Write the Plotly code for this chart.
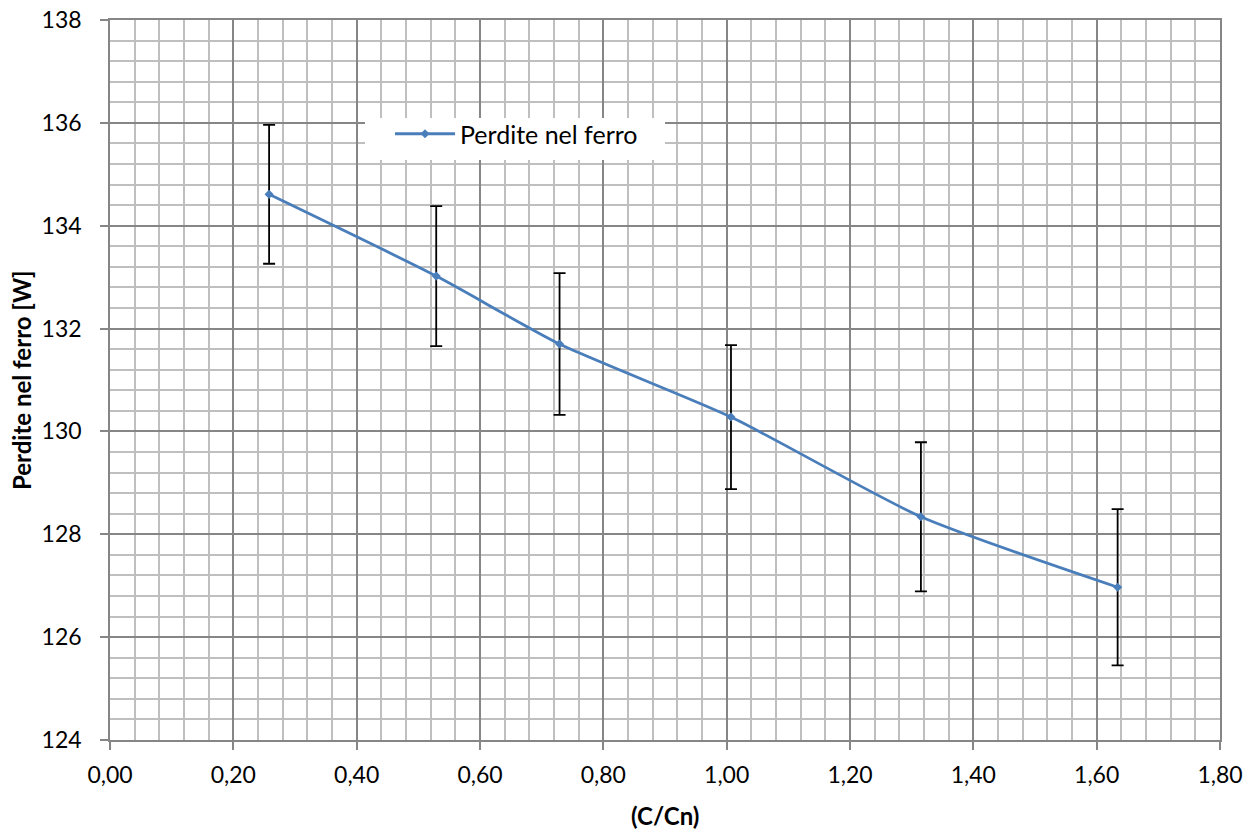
import plotly.graph_objects as go

# Data
x_vals = [0.258, 0.529, 0.729, 1.007, 1.315, 1.634]
y_vals = [134.61, 133.02, 131.70, 130.28, 128.34, 126.97]
y_err = [1.35, 1.36, 1.38, 1.40, 1.45, 1.52]
series_name = "Perdite nel ferro"
x_title = "(C/Cn)"
y_title = "Perdite nel ferro [W]"

FONT = "Lato, 'Open Sans', sans-serif"
MAJOR = "#868686"
MINOR = "#BFBFBF"

fig = go.Figure()
fig.add_trace(go.Scatter(
    x=x_vals, y=y_vals, name=series_name,
    mode="lines+markers",
    line=dict(color="#4A7EBB", width=2.8, shape="spline", smoothing=0.6),
    marker=dict(symbol="diamond", size=7, color="#4A7EBB"),
    error_y=dict(type="data", array=y_err, visible=True, color="black",
                 thickness=1.8, width=6),
))

L, R, T, B = 110, 35, 20, 89
W, H = 1255, 829
pw, ph = W - L - R, H - T - B

def px2x(p):
    return (p - L) / pw

def px2y(p):
    return (H - B - p) / ph

fig.add_shape(type="rect", xref="paper", yref="paper",
              x0=px2x(365), x1=px2x(665), y0=px2y(160), y1=px2y(118),
              fillcolor="white", line=dict(width=0), layer="above")

fig.update_layout(
    width=W, height=H,
    margin=dict(l=L, r=R, t=T, b=B, pad=0, autoexpand=False),
    paper_bgcolor="white", plot_bgcolor="white",
    separators=",.",
    font=dict(family=FONT, size=23, color="black"),
    showlegend=True,
    legend=dict(x=px2x(390), y=px2y(111), xanchor="left", yanchor="top",
                bgcolor="rgba(0,0,0,0)", borderwidth=0,
                font=dict(family=FONT, size=25, color="black"),
                itemwidth=60),
    xaxis=dict(range=[0, 1.8], dtick=0.2, tick0=0, tickformat=".2f",
               automargin=False,
               showgrid=True, gridcolor=MAJOR, gridwidth=1.5,
               minor=dict(dtick=0.04, tick0=0, showgrid=True, gridcolor=MINOR, gridwidth=1.5, ticks=""),
               showline=True, linecolor=MAJOR, linewidth=1.5, mirror=True,
               ticks="outside", ticklen=8, tickcolor=MAJOR, tickwidth=1.5,
               ticklabelstandoff=6,
               tickfont=dict(family=FONT, size=23, color="black"),
               zeroline=False),
    yaxis=dict(range=[124, 138], dtick=2, tick0=124,
               automargin=False,
               showgrid=True, gridcolor=MAJOR, gridwidth=1.5,
               minor=dict(dtick=0.4, tick0=124, showgrid=True, gridcolor=MINOR, gridwidth=1.5, ticks=""),
               showline=True, linecolor=MAJOR, linewidth=1.5, mirror=True,
               ticks="outside", ticklen=8, tickcolor=MAJOR, tickwidth=1.5,
               ticklabelstandoff=14,
               tickfont=dict(family=FONT, size=23, color="black"),
               zeroline=False),
    annotations=[
        dict(text="<b>%s</b>" % x_title, xref="paper", yref="paper",
             x=0.5, y=px2y(815), xanchor="center", yanchor="middle",
             showarrow=False, font=dict(family=FONT, size=24, color="black")),
        dict(text="<b>%s</b>" % y_title, xref="paper", yref="paper",
             x=px2x(21), y=px2y(380), xanchor="center", yanchor="middle",
             textangle=-90,
             showarrow=False, font=dict(family=FONT, size=24, color="black")),
    ],
)

fig.write_html("out.html", config={"displayModeBar": False},
               post_script="document.body.style.margin='0';document.body.style.overflow='hidden';")
